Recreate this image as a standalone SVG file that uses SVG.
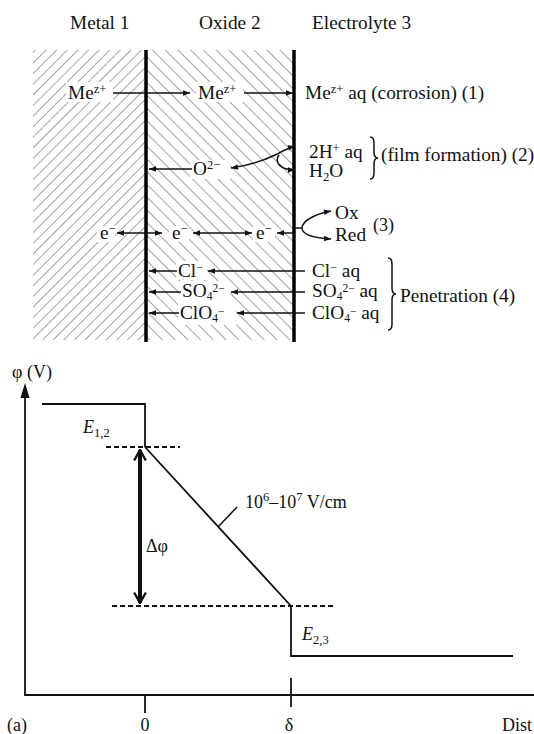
<svg xmlns="http://www.w3.org/2000/svg" width="534" height="734" viewBox="0 0 534 734">
<style>
text{font-family:"Liberation Serif","Times New Roman",serif;font-size:19.3px;fill:#111}
.sm{font-size:18px}
.ln{stroke:#111;stroke-width:1.5;fill:none}
.ar{stroke:#111;stroke-width:1.5;fill:none;marker-end:url(#ah)}
.ar2{stroke:#111;stroke-width:1.5;fill:none;marker-start:url(#ah);marker-end:url(#ah)}
.wall{stroke:#000;stroke-width:3.5}
.ko{fill:#fff}
.g{stroke:#111;stroke-width:1.8;fill:none}
.dash{stroke:#111;stroke-width:2.2;stroke-dasharray:5 3;fill:none}
</style>
<defs>
<marker id="ah" viewBox="0 0 10 10" refX="10" refY="5" markerWidth="9" markerHeight="7" markerUnits="userSpaceOnUse" orient="auto-start-reverse"><path d="M0,1 L10,5 L0,9 z" fill="#111"/></marker>
<marker id="chev" viewBox="0 0 12 12" refX="11" refY="6" markerWidth="14" markerHeight="14" markerUnits="userSpaceOnUse" orient="auto-start-reverse"><path d="M2,1 L11,6 L2,11" fill="none" stroke="#111" stroke-width="2"/></marker>
<pattern id="hm" width="7.5" height="7.5" patternUnits="userSpaceOnUse" patternTransform="rotate(45)"><line x1="0" y1="0" x2="0" y2="7.5" stroke="#333" stroke-width="0.9"/></pattern>
<pattern id="ho" width="9" height="9" patternUnits="userSpaceOnUse" patternTransform="rotate(-45)"><line x1="0" y1="0" x2="0" y2="9" stroke="#333" stroke-width="0.9"/></pattern>
</defs>
<rect width="534" height="734" fill="#fff"/>

<g id="titles">
<text x="70" y="29">Metal 1</text>
<text x="199" y="29">Oxide 2</text>
<text x="312" y="29">Electrolyte 3</text>
</g>

<g id="metal">
<rect x="33" y="50" width="112" height="290" fill="url(#hm)"/>
</g>
<g id="oxide">
<rect x="146" y="50" width="148" height="290" fill="url(#ho)"/>
</g>

<g id="knockouts">
<rect class="ko" x="66" y="82" width="47" height="20"/>
<rect class="ko" x="196" y="82" width="47" height="20"/>
<rect class="ko" x="190" y="160" width="40" height="19"/>
<rect class="ko" x="97" y="226" width="18" height="16"/>
<rect class="ko" x="169" y="226" width="20" height="16"/>
<rect class="ko" x="253" y="226" width="22" height="16"/>
<rect class="ko" x="176" y="261" width="31" height="19"/>
<rect class="ko" x="180" y="281" width="50" height="22"/>
<rect class="ko" x="178" y="302" width="58" height="23"/>
</g>

<g id="walls">
<line class="wall" x1="146" y1="50" x2="146" y2="342"/>
<line class="wall" x1="294" y1="50" x2="294" y2="342"/>
</g>

<g id="connectors">
<line class="ar" x1="113" y1="93" x2="190" y2="93"/>
<line class="ar" x1="244" y1="93" x2="293" y2="93"/>
<line class="ar" x1="192" y1="169" x2="149" y2="169"/>
<path class="ar2" d="M231,168 C250,165 265,160 275,155 C283,151 288,148 295,146"/>
<path class="ar" d="M279,155 C274,162 280,170 295,170"/>
<line class="ar2" x1="117" y1="233" x2="162" y2="233"/>
<line class="ar2" x1="193" y1="233" x2="252" y2="233"/>
<line class="ar" x1="293" y1="233" x2="277" y2="233"/>
<path class="ar2" d="M331,211 C315,214 302,221 302,228 C302,235 315,238 331,239"/>
<line class="ln" x1="294" y1="228" x2="302" y2="228"/>
<line class="ar" x1="177" y1="271" x2="149" y2="271"/>
<line class="ar" x1="305" y1="271" x2="208" y2="271"/>
<line class="ar" x1="181" y1="292" x2="149" y2="292"/>
<line class="ar" x1="305" y1="292" x2="231" y2="292"/>
<line class="ar" x1="179" y1="313" x2="149" y2="313"/>
<line class="ar" x1="305" y1="313" x2="237" y2="313"/>
</g>

<g id="labels">
<text x="68" y="99">Me<tspan dy="-6" font-size="12.5">z+</tspan></text>
<text x="198" y="99">Me<tspan dy="-6" font-size="12.5">z+</tspan></text>
<text x="305" y="99">Me<tspan dy="-6" font-size="12.5">z+</tspan><tspan dy="6"> aq (corrosion) (1)</tspan></text>
<text x="309" y="158">2H<tspan dy="-6" font-size="12.5">+</tspan><tspan dy="6"> aq</tspan></text>
<text x="309" y="177">H<tspan dy="4" font-size="12.5">2</tspan><tspan dy="-4">O</tspan></text>
<text x="381" y="161">(film formation) (2)</text>
<text x="193" y="175">O<tspan dy="-6" font-size="12.5">2−</tspan></text>
<text x="100" y="239">e<tspan dy="-6" font-size="12.5">−</tspan></text>
<text x="172" y="239">e<tspan dy="-6" font-size="12.5">−</tspan></text>
<text x="256" y="239">e<tspan dy="-6" font-size="12.5">−</tspan></text>
<text x="335" y="219">Ox</text>
<text x="335" y="241">Red</text>
<text x="373" y="231" class="sm">(3)</text>
<text x="178" y="277">Cl<tspan dy="-6" font-size="12">−</tspan></text>
<text x="182" y="297">SO<tspan dy="3" font-size="11.5">4</tspan><tspan dy="-8" font-size="11.5">2−</tspan></text>
<text x="180" y="319">ClO<tspan dy="3" font-size="11.5">4</tspan><tspan dy="-7" font-size="11.5">−</tspan></text>
<text x="312" y="277">Cl<tspan dy="-6" font-size="12">−</tspan><tspan dy="6"> aq</tspan></text>
<text x="312" y="297">SO<tspan dy="3" font-size="11.5">4</tspan><tspan dy="-8" font-size="11.5">2−</tspan><tspan dy="5"> aq</tspan></text>
<text x="312" y="319">ClO<tspan dy="3" font-size="11.5">4</tspan><tspan dy="-7" font-size="11.5">−</tspan><tspan dy="4"> aq</tspan></text>
<text x="400" y="302">Penetration (4)</text>
</g>

<g id="braces">
<path class="ln" stroke-width="1.2" d="M370,137 Q374,137 374,143 L374,152 Q374,158 378,158 Q374,158 374,164 L374,173 Q374,179 370,179"/>
<path class="ln" stroke-width="1.2" d="M388,258 Q392,258 392,264 L392,288 Q392,294 396,294 Q392,294 392,300 L392,324 Q392,330 388,330"/>
</g>

<g id="graph">
<line class="g" x1="25" y1="696" x2="25" y2="396"/>
<path d="M25,383 L29.5,398 L20.5,398 z" fill="#111"/>
<line class="g" x1="25" y1="695" x2="534" y2="695"/>
<polyline class="g" points="42,404 145,404 145,447"/>
<line class="dash" x1="106" y1="447" x2="180" y2="447"/>
<line stroke="#111" stroke-width="4" x1="140" y1="450" x2="140" y2="603" marker-start="url(#chev)" marker-end="url(#chev)"/>
<line class="g" x1="145" y1="447" x2="291" y2="606"/>
<line class="dash" x1="112" y1="606" x2="336" y2="606"/>
<polyline class="g" points="291,606 291,656 513,656"/>
<line class="ln" x1="218" y1="527" x2="237" y2="507"/>
<line class="g" x1="145" y1="695" x2="145" y2="713"/>
<line class="g" x1="291" y1="678" x2="291" y2="707"/>
</g>

<g id="graph-labels">
<text x="12" y="378" class="sm">φ (V)</text>
<text x="83" y="433" class="sm"><tspan font-style="italic">E</tspan><tspan dy="4" font-size="12.5">1,2</tspan></text>
<text x="245" y="508" class="sm">10<tspan dy="-7" font-size="12.5">6</tspan><tspan dy="7">–10</tspan><tspan dy="-7" font-size="12.5">7</tspan><tspan dy="7"> V/cm</tspan></text>
<text x="146" y="552" class="sm">Δφ</text>
<text x="302" y="640" class="sm"><tspan font-style="italic">E</tspan><tspan dy="4" font-size="12.5">2,3</tspan></text>
<text x="7" y="731" class="sm">(a)</text>
<text x="145" y="731" class="sm" text-anchor="middle">0</text>
<text x="289" y="731" class="sm" text-anchor="middle">δ</text>
<text x="502" y="731" class="sm">Dist</text>
</g>
</svg>
